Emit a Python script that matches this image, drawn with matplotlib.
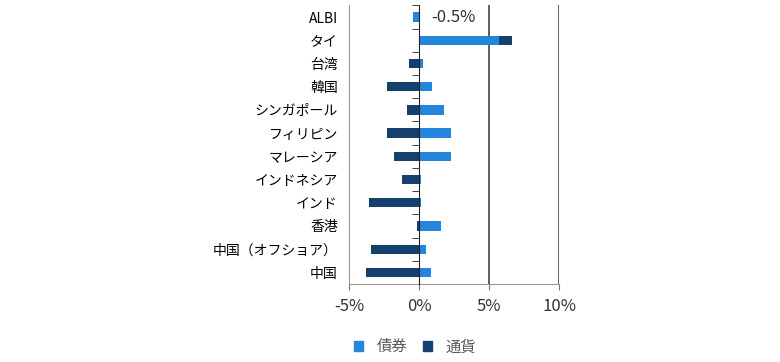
import numpy as np
import matplotlib.pyplot as plt
from matplotlib.patches import Patch

plt.rcParams['font.family'] = ['Noto Sans CJK JP', 'DejaVu Sans']

categories = ['ALBI', 'タイ', '台湾', '韓国', 'シンガポール', 'フィリピン',
              'マレーシア', 'インドネシア', 'インド', '香港', '中国（オフショア）', '中国']
bond = [-0.45, 5.69, 0.26, 0.90, 1.76, 2.26, 2.26, 0.12, 0.12, 1.55, 0.48, 0.83]
currency = [0.0, 0.93, -0.74, -2.31, -0.88, -2.31, -1.81, -1.24, -3.60, -0.17, -3.45, -3.81]
xticks = [-5, 0, 5, 10]
albi_label = '-0.5%'

c_bond = '#2385DC'
c_cur = '#15406D'

fig = plt.figure(figsize=(7.8, 3.62), dpi=100)
ax = fig.add_axes([0.4474, 0.2155, 0.2693, 0.7695])

y = np.arange(len(categories))
b = np.array(bond)
c = np.array(currency)
left = np.where(np.sign(b) == np.sign(c), b, 0)

ax.barh(y, b, height=0.4, color=c_bond, zorder=3)
ax.barh(y, c, left=left, height=0.4, color=c_cur, zorder=3)

for xv in [5, 10]:
    ax.axvline(xv, color='#333333', lw=1.1, zorder=1)

ax.set_xlim(-5, 10)
ax.set_ylim(len(categories) - 0.5, -0.5)
ax.set_xticks(xticks)
ax.set_xticklabels([f'{v}%' for v in xticks], fontsize=12, color='#333333')
ax.set_yticks(y)
ax.set_yticklabels(categories, fontsize=12, color='#595959')
ax.set_yticks(np.arange(len(categories) + 1) - 0.5, minor=True)

# zero line drawn via right spine with minor ticks pointing left
ax.spines['top'].set_visible(False)
ax.spines['right'].set_position(('data', 0))
ax.spines['right'].set_color('#222222')
ax.spines['right'].set_zorder(4)
ax.spines['left'].set_color('#999999')
ax.spines['bottom'].set_color('#999999')
ax.tick_params(axis='y', which='major', left=True, right=False, length=0, pad=8)
ax.tick_params(axis='y', which='minor', left=False, right=True, direction='in',
               length=5, color='#222222')
ax.tick_params(axis='x', which='major', length=4, color='#777777', pad=6)

ax.text(0.9, 0, albi_label, fontsize=12, color='#333333', va='center', ha='left')

handles = [Patch(color=c_bond, label='債券'), Patch(color=c_cur, label='通貨')]
fig.legend(handles=handles, loc='center', bbox_to_anchor=(0.532, 0.042), ncol=2,
           frameon=False, fontsize=11, handlelength=0.6, handleheight=0.6,
           columnspacing=1.0, handletextpad=0.9, labelcolor='#595959')

fig.savefig('out.png', dpi=100)
